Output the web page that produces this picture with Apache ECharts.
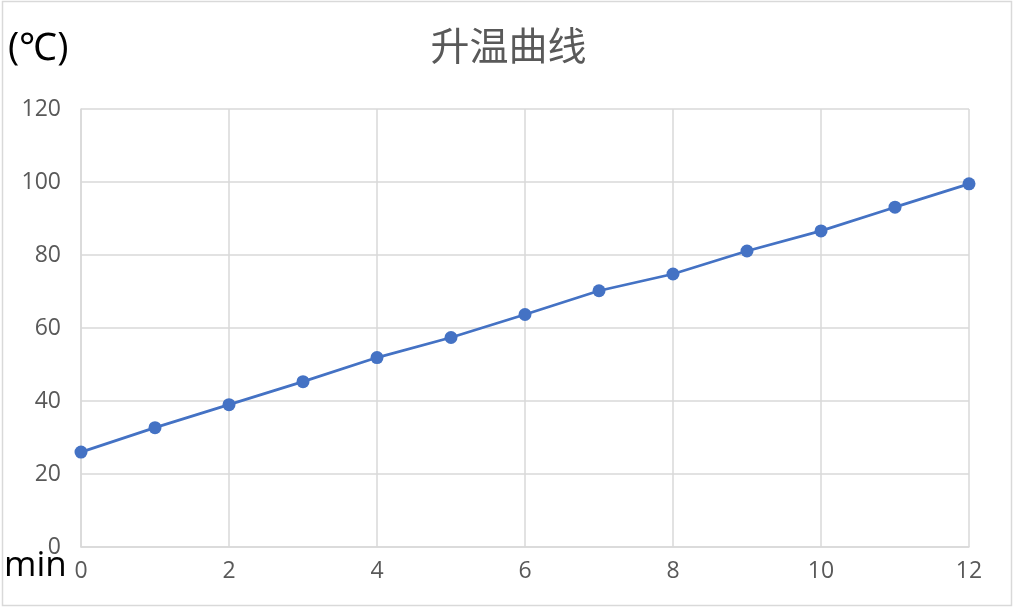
<!DOCTYPE html>
<html><head><meta charset="utf-8">
<script src="https://cdn.jsdelivr.net/npm/echarts@6/dist/echarts.min.js"></script>
<style>html,body{margin:0;padding:0;background:#fff}#c{width:1017px;height:613px}</style>
</head><body><div id="c"></div>
<script>
const titleText = '升温曲线';
const yUnit = '(℃)';
const xUnit = 'min';
const minutes = [0,1,2,3,4,5,6,7,8,9,10,11,12];
const temps = [26.0,32.7,39.0,45.3,51.9,57.4,63.7,70.2,74.8,81.1,86.6,93.1,99.5];
const yMin = 0, yMax = 120, yStep = 20;
const xMin = 0, xMax = 12, xStep = 2;

const chart = echarts.init(document.getElementById('c'));
const labelFont = 'Open Sans, Noto Sans, sans-serif';
chart.setOption({
  animation:false,
  backgroundColor:'#fff',
  title:{text:titleText,left:'center',top:21,textStyle:{fontFamily:'Noto Sans CJK SC',fontSize:39,fontWeight:'normal',color:'#595959'}},
  grid:{left:81,right:48,top:109,bottom:66},
  xAxis:{type:'value',min:xMin,max:xMax,interval:xStep,
    axisLine:{show:true,lineStyle:{color:'#d9d9d9',width:1.5}},
    axisTick:{show:false},
    splitLine:{show:true,lineStyle:{color:'#d9d9d9',width:1.5}},
    axisLabel:{color:'#595959',fontSize:23,fontFamily:labelFont,margin:13}},
  yAxis:{type:'value',min:yMin,max:yMax,interval:yStep,
    axisLine:{show:true,lineStyle:{color:'#d9d9d9',width:1.5}},
    axisTick:{show:false},
    splitLine:{show:true,lineStyle:{color:'#d9d9d9',width:1.5}},
    axisLabel:{color:'#595959',fontSize:23,fontFamily:labelFont,margin:20}},
  graphic:[
    {type:'rect',shape:{x:2.5,y:1.5,width:1009,height:604},style:{fill:'none',stroke:'#d9d9d9',lineWidth:1.5},z:-1},
    {type:'text',left:8,top:30,style:{text:yUnit,font:'38px Open Sans, sans-serif',fill:'#000'}},
    {type:'text',left:4,top:549,style:{text:xUnit,font:'35px Open Sans, sans-serif',fill:'#000'}}
  ],
  series:[{type:'line',data:minutes.map((m,i)=>[m,temps[i]]),
    symbol:'circle',symbolSize:13,
    lineStyle:{color:'#4472c4',width:2.75},
    itemStyle:{color:'#4472c4'}}]
});
</script></body></html>
